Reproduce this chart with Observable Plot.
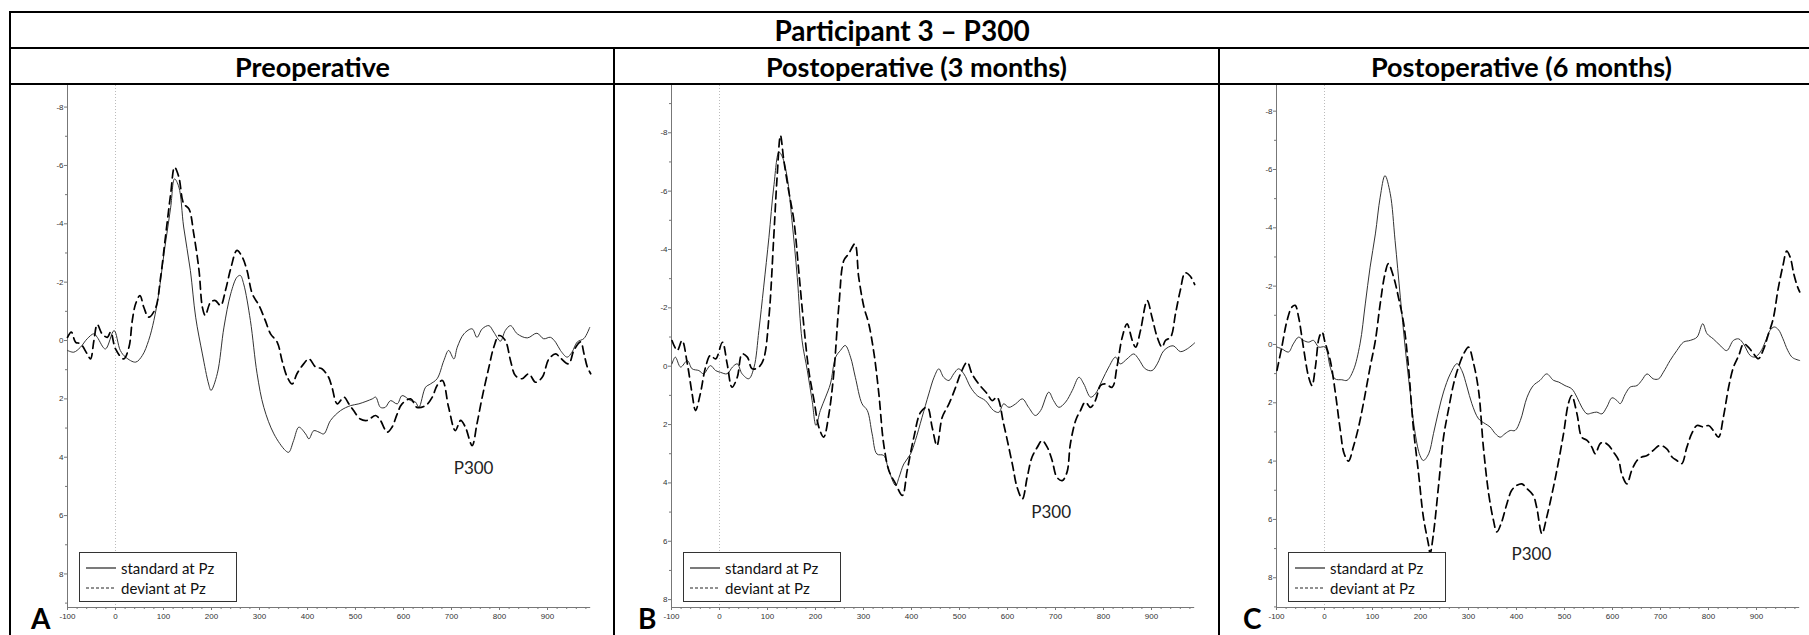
<!DOCTYPE html>
<html><head><meta charset="utf-8">
<script src="https://cdn.jsdelivr.net/npm/d3@7"></script>
<script src="https://cdn.jsdelivr.net/npm/@observablehq/plot@0.6"></script>
<style>
body{margin:0;width:1809px;height:635px;overflow:hidden;background:#fff;position:relative;font-family:Lato,"Noto Sans",sans-serif}
.ln{position:absolute;background:#000}
.hdr{position:absolute;text-align:center;font-weight:bold;font-size:27px;color:#000;white-space:nowrap}
.panel{position:absolute;top:84px}
.legend{position:absolute;border:1px solid #333;background:#fff;font-size:15px;color:#111;box-sizing:border-box}
.legend .row{position:absolute;left:0;height:18px;display:flex;align-items:center}
.legend svg{margin-left:6px;margin-right:5px}
.letter{position:absolute;font-weight:bold;font-size:28px;line-height:1;color:#000}
</style></head><body>
<script>
// ---------- data ----------
const title = "Participant 3 – P300";
const panelTitles = ["Preoperative", "Postoperative (3 months)", "Postoperative (6 months)"];
const panelLetters = ["A", "B", "C"];
const seriesNames = ["standard at Pz", "deviant at Pz"];
const xMajorTicks = [-100, 0, 100, 200, 300, 400, 500, 600, 700, 800, 900];
const yMajorTicks = [-8, -6, -4, -2, 0, 2, 4, 6, 8];
const xDomain = [-100, 990];
const yDomains = [[-8.74, 9.15], [-9.62, 8.27], [-8.88, 9.02]];
const p300Labels = [[746, 4.39], [691, 5.0], [431, 7.2]];

// [ms, µV]
const A_standard = [[-100,0.34],[-87,0.40],[-73,0.23],[-59,-0.06],[-45,-0.23],[-38,-0.11],[-21,0.29],[-3,-0.34],[10,0.34],[21,0.57],[42,0.74],[56,0.51],[69,0],[80,-0.69],[90,-1.6],[101,-2.97],[115,-4.57],[123,-5.54],[132,-5.26],[142,-3.89],[156,-2.4],[167,-0.8],[181,0.46],[194,1.49],[199,1.71],[212,1.14],[226,-0.46],[240,-1.6],[253,-2.17],[260,-2.23],[267,-1.94],[281,-0.69],[295,1.14],[309,2.29],[330,3.2],[354,3.77],[361,3.83],[371,3.43],[382,2.97],[396,3.2],[403,3.37],[413,3.09],[424,3.14],[434,3.2],[448,2.74],[469,2.4],[490,2.23],[507,2.17],[535,2.0],[542,1.94],[552,2.29],[562,2.29],[573,2.06],[587,2.17],[597,1.89],[615,2.06],[625,2.11],[632,2.29],[646,1.6],[656,1.49],[670,1.31],[684,0.69],[694,0.34],[705,0.63],[712,0.23],[726,-0.23],[743,-0.4],[753,-0.11],[764,-0.4],[778,-0.51],[788,-0.29],[802,0.02],[812,-0.34],[823,-0.51],[837,-0.23],[858,-0.09],[878,-0.25],[892,-0.06],[906,-0.11],[917,0.06],[927,0.34],[941,0.57],[951,0.4],[962,0.05],[976,-0.07],[988,-0.45]];
const A_deviant = [[-100,-0.11],[-92,-0.29],[-83,0.06],[-73,0.11],[-59,0.46],[-52,0.63],[-45,0],[-38,-0.55],[-28,-0.23],[-17,-0.11],[-10,-0.29],[0,0.29],[17,0.63],[28,0.23],[35,-0.69],[42,-1.26],[51,-1.54],[59,-1.14],[69,-0.8],[83,-1.09],[94,-2.17],[104,-3.54],[115,-5.03],[123,-5.94],[132,-5.6],[142,-4.69],[153,-4.51],[163,-3.66],[174,-2.4],[181,-1.14],[187,-0.86],[198,-1.31],[208,-1.37],[219,-1.2],[229,-1.71],[240,-2.46],[253,-3.09],[264,-2.86],[274,-2.4],[285,-1.6],[299,-1.2],[312,-0.69],[323,-0.23],[337,0.06],[347,0.69],[358,1.26],[368,1.49],[378,1.14],[392,0.8],[403,0.63],[417,0.91],[430,0.97],[444,1.26],[451,1.6],[462,2.17],[476,1.94],[486,2.17],[496,2.4],[510,2.69],[524,2.74],[542,2.57],[552,2.74],[566,3.14],[576,2.97],[587,2.51],[597,2.17],[615,2.0],[628,2.29],[646,2.23],[660,1.94],[670,1.54],[681,1.37],[694,2.29],[708,3.09],[719,2.74],[729,2.97],[743,3.6],[753,2.86],[764,1.94],[778,0.91],[788,0.23],[799,-0.17],[812,0],[823,0.69],[833,1.2],[847,1.31],[861,1.14],[875,1.43],[889,1.26],[903,0.63],[917,0.46],[927,0.6],[944,0.8],[955,0.34],[969,0.05],[976,0.45],[983,0.91],[990,1.14]];
const B_standard = [[-99,-0.08],[-92,-0.31],[-81,0.03],[-67,-0.19],[-57,0.09],[-43,0.15],[-33,0.26],[-19,-0.02],[-8,0.15],[2,0.21],[16,0.26],[27,0.03],[37,-0.08],[47,0.26],[61,0.43],[72,0.03],[82,-1.22],[92,-2.71],[103,-4.42],[113,-6.14],[124,-7.34],[131,-7.17],[141,-6.48],[151,-4.99],[162,-3.05],[172,-0.88],[183,0.15],[193,1.18],[201,2.03],[210,1.52],[221,1.06],[231,0.61],[242,-0.31],[252,-0.54],[262,-0.71],[273,-0.31],[283,0.38],[297,1.29],[308,1.52],[318,2.32],[328,3.01],[342,3.06],[353,3.58],[367,4.09],[374,3.81],[384,3.35],[398,3.01],[408,2.55],[422,1.75],[436,0.95],[447,0.38],[457,0.09],[467,0.38],[478,0.49],[488,0.26],[498,0.09],[509,0.26],[523,0.72],[537,1.01],[554,1.18],[571,1.52],[582,1.58],[592,1.29],[603,1.41],[617,1.29],[631,1.12],[644,1.41],[658,1.69],[669,1.52],[686,0.89],[696,1.18],[707,1.41],[721,1.23],[735,0.83],[749,0.38],[759,0.61],[773,1.06],[783,0.95],[797,0.49],[811,0.03],[825,-0.31],[835,-0.08],[849,-0.25],[863,-0.42],[873,-0.25],[887,0.09],[901,0.15],[912,-0.08],[926,-0.54],[945,-0.7],[960,-0.5],[975,-0.6],[990,-0.8]];
const B_deviant = [[-99,-0.88],[-88,-0.54],[-78,-0.88],[-67,-0.08],[-57,0.95],[-50,1.52],[-40,0.95],[-29,0.03],[-19,-0.37],[-8,-0.25],[6,-0.82],[16,-0.08],[26,0.72],[37,0.38],[47,-0.42],[58,-0.31],[68,0.09],[82,0.03],[92,-0.25],[103,-1.68],[113,-4.42],[120,-6.48],[127,-7.91],[134,-7.05],[144,-6.02],[155,-4.99],[165,-3.28],[176,-1.34],[186,0.15],[197,1.18],[207,2.09],[217,2.43],[228,1.63],[238,0.26],[249,-2.14],[259,-3.62],[269,-3.85],[282,-4.19],[290,-3.05],[301,-2.02],[311,-1.45],[322,-0.42],[332,0.95],[342,2.66],[353,3.58],[367,4.03],[381,4.43],[391,3.58],[405,2.43],[419,1.58],[433,1.41],[443,2.09],[453,2.72],[464,1.75],[478,1.29],[492,0.72],[502,0.26],[516,-0.14],[526,0.26],[540,0.61],[558,0.95],[568,1.18],[578,1.06],[592,1.98],[610,3.35],[620,4.15],[631,4.55],[641,3.81],[651,3.12],[662,2.78],[672,2.55],[683,2.78],[693,3.23],[703,3.81],[714,3.92],[724,3.63],[731,2.66],[742,1.86],[752,1.52],[762,1.23],[773,1.41],[783,1.18],[794,0.66],[804,0.61],[818,0.72],[828,0.03],[839,-0.99],[849,-1.45],[860,-0.88],[867,-0.65],[877,-1.22],[891,-2.25],[901,-1.68],[912,-0.99],[922,-0.65],[929,-0.88],[940,-1.0],[950,-1.8],[960,-2.6],[970,-3.2],[980,-3.1],[990,-2.8]];
const C_standard = [[-99,0.09],[-89,0.15],[-75,0.26],[-65,-0.02],[-54,-0.25],[-44,-0.14],[-33,-0.08],[-23,-0.14],[-12,0.09],[1,0.09],[12,0.78],[22,1.18],[36,1.21],[47,1.23],[60,0.89],[74,-0.02],[85,-1.39],[95,-2.65],[106,-3.79],[116,-5.05],[126,-5.79],[137,-5.17],[147,-3.57],[158,-1.62],[168,0.09],[178,1.58],[189,3.06],[199,3.81],[206,3.98],[217,3.75],[227,3.06],[238,2.26],[248,1.63],[262,1.01],[276,0.66],[286,0.89],[297,1.46],[307,2.03],[321,2.55],[335,2.72],[345,2.83],[356,3.06],[366,3.18],[376,3.06],[387,2.95],[397,2.95],[408,2.61],[422,1.81],[435,1.41],[449,1.23],[463,1.01],[477,1.23],[488,1.29],[501,1.41],[515,1.52],[526,1.81],[536,2.15],[547,2.38],[557,2.35],[567,2.32],[578,2.38],[588,2.15],[599,1.83],[609,1.92],[616,2.03],[627,1.69],[637,1.46],[651,1.41],[661,1.23],[672,1.01],[685,1.18],[696,1.18],[706,0.95],[720,0.55],[734,0.21],[748,-0.08],[762,-0.14],[776,-0.25],[788,-0.71],[797,-0.37],[810,-0.19],[824,0.03],[838,0.21],[852,-0.14],[863,-0.19],[873,-0.02],[887,0.38],[897,0.43],[908,0.26],[918,-0.08],[928,-0.48],[937,-0.6],[946,-0.5],[955,-0.2],[965,0.2],[975,0.45],[990,0.55]];
const C_deviant = [[-99,0.89],[-89,0.09],[-78,-0.82],[-68,-1.28],[-61,-1.34],[-54,-0.94],[-44,0.09],[-33,1.12],[-26,1.41],[-19,0.78],[-11,-0.25],[-5,-0.42],[1,-0.08],[12,0.55],[22,1.58],[33,2.95],[41,3.75],[50,4.0],[60,3.52],[71,2.83],[81,2.03],[95,0.78],[106,-0.14],[116,-1.39],[126,-2.42],[133,-2.77],[144,-2.31],[154,-1.62],[165,-0.71],[175,0.78],[185,2.83],[196,4.43],[206,5.92],[217,6.89],[220,7.18],[227,6.49],[238,4.78],[248,3.18],[258,2.26],[269,1.35],[279,0.78],[290,0.32],[300,0.09],[310,0.61],[321,1.58],[331,3.52],[342,5.12],[352,6.03],[359,6.43],[369,6.09],[380,5.46],[390,5.0],[401,4.83],[411,4.78],[422,4.95],[435,5.18],[442,5.58],[453,6.49],[463,5.92],[474,5.12],[484,4.32],[498,3.06],[508,2.03],[515,1.75],[526,2.38],[536,3.18],[547,3.29],[557,3.52],[564,3.75],[574,3.41],[581,3.35],[592,3.46],[602,3.69],[613,3.98],[619,4.43],[630,4.78],[640,4.32],[651,3.98],[661,3.86],[672,3.81],[685,3.63],[699,3.46],[713,3.58],[724,3.86],[734,3.98],[744,4.09],[755,3.52],[765,3.06],[776,2.78],[790,2.83],[800,2.78],[810,2.95],[821,3.18],[831,2.49],[842,1.46],[852,0.78],[863,0.38],[873,-0.02],[883,0.09],[894,0.32],[904,0.49],[915,0.15],[924,-0.31],[935,-0.9],[945,-1.9],[955,-2.7],[963,-3.2],[970,-3.0],[978,-2.4],[985,-2.0],[990,-1.8]];

const standards = [A_standard, B_standard, C_standard];
const deviants = [A_deviant, B_deviant, C_deviant];

// ---------- layout ----------
const colLefts = [10, 614, 1219];
const colWidth = 605;
const letterLefts = [31, 638, 1243];
function line(x, y, w, h) {
  const d = document.createElement("div");
  d.className = "ln";
  Object.assign(d.style, {left: x + "px", top: y + "px", width: w + "px", height: h + "px"});
  document.body.appendChild(d);
}
function hdr(text, left, width, top, height, size) {
  const d = document.createElement("div");
  d.className = "hdr";
  d.textContent = text;
  Object.assign(d.style, {left: left + "px", width: width + "px", top: top + "px", height: height + "px", lineHeight: height + "px", fontSize: size + "px"});
  document.body.appendChild(d);
}
hdr(title, 10, 1784, 12, 36, 28);
panelTitles.forEach((t, i) => hdr(t, colLefts[i], colWidth, 49, 35, 27));

const xMinor = d3.range(-100, 991, 20).filter(v => v % 100 !== 0);
const yMinor = [-9, -7, -5, -3, -1, 1, 3, 5, 7, 9];

panelTitles.forEach((_, i) => {
  const yd = yDomains[i];
  const chart = Plot.plot({
    width: 604, height: 551,
    marginLeft: 57, marginRight: 23.8, marginTop: 1, marginBottom: 28,
    x: {domain: xDomain, axis: null},
    y: {domain: yd, reverse: true, axis: null},
    style: {fontFamily: "'Liberation Sans', sans-serif", fontSize: "8px", color: "#333", background: "transparent", overflow: "visible"},
    marks: [
      Plot.ruleX([0], {stroke: "#bbb", strokeDasharray: "1,2"}),
      Plot.axisY(yMajorTicks.filter(v => v > yd[0] && v < yd[1]), {tickSize: 3, tickPadding: 1, tickFormat: d => String(d), stroke: "#777", fontSize: 8}),
      Plot.axisY(yMinor.filter(v => v > yd[0] && v < yd[1]), {tickSize: 2, tickFormat: () => "", stroke: "#777"}),
      Plot.axisX(xMajorTicks, {tickSize: 3, tickPadding: 3, tickFormat: d => String(d), stroke: "#777", fontSize: 8}),
      Plot.axisX(xMinor, {tickSize: 2, tickFormat: () => "", stroke: "#777"}),
      Plot.ruleX([xDomain[0]], {stroke: "#777"}),
      Plot.ruleY([yd[1]], {stroke: "#777"}),
      Plot.line(standards[i], {x: d => d[0], y: d => d[1], stroke: "#333", strokeWidth: 1, curve: "catmull-rom"}),
      Plot.line(deviants[i], {x: d => d[0], y: d => d[1], stroke: "#000", strokeWidth: 1.7, strokeDasharray: "8,5", curve: "catmull-rom"}),
      Plot.text([p300Labels[i]], {x: d => d[0], y: d => d[1], text: () => "P300", fontSize: 17, fontFamily: "Lato, sans-serif", fill: "#222"})
    ]
  });
  chart.classList.add("panel");
  chart.style.left = colLefts[i] + "px";
  chart.style.position = "absolute";
  chart.style.top = "84px";
  document.body.appendChild(chart);

  // legend
  const lg = document.createElement("div");
  lg.className = "legend";
  Object.assign(lg.style, {left: (colLefts[i] + 69) + "px", top: "552px", width: "158px", height: "50px"});
  seriesNames.forEach((name, k) => {
    const row = document.createElement("div");
    row.className = "row";
    row.style.top = (k === 0 ? 6 : 26) + "px";
    const dash = k === 0 ? "" : "stroke-dasharray='3,2'";
    const sw = k === 0 ? 1.2 : 1;
    row.innerHTML = `<svg width="30" height="4"><line x1="0" x2="30" y1="2" y2="2" stroke="#222" stroke-width="${sw}" ${dash}/></svg><span>${name}</span>`;
    lg.appendChild(row);
  });
  document.body.appendChild(lg);

  const L = document.createElement("div");
  L.className = "letter";
  L.textContent = panelLetters[i];
  Object.assign(L.style, {left: letterLefts[i] + "px", top: "604px"});
  document.body.appendChild(L);
});

// table borders
line(9, 11, 1800, 2);
line(9, 47, 1800, 2);
line(9, 83, 1800, 2);
line(9, 11, 2, 624);
line(613, 48, 2, 587);
line(1218, 48, 2, 587);
</script>
</body></html>
